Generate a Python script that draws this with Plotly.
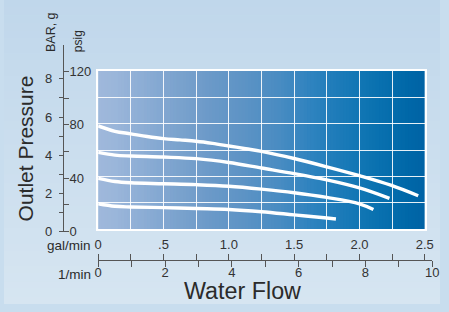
import plotly.graph_objects as go

# ---------------- data ----------------
flow_gal_1 = [0, 0.128, 0.25, 0.375, 0.5, 0.625, 0.75, 0.875, 1.0, 1.13, 1.25, 1.5, 1.75, 2.0, 2.24, 2.45]
psig_1 = [78.3, 74.2, 72.3, 70.3, 68.7, 67.7, 66.7, 65.1, 63.1, 61.0, 59.0, 53.6, 47.3, 40.6, 33.4, 25.4]

flow_gal_2 = [0, 0.128, 0.25, 0.5, 0.75, 1.0, 1.25, 1.5, 1.75, 2.0, 2.23]
psig_2 = [58.3, 56.2, 55.5, 54.7, 53.5, 50.6, 46.4, 42.2, 37.4, 31.3, 23.4]

flow_gal_3 = [0, 0.128, 0.25, 0.5, 0.75, 1.0, 1.25, 1.5, 1.75, 2.0, 2.107]
psig_3 = [38.6, 36.2, 35.2, 34.5, 33.8, 32.6, 30.4, 27.7, 24.1, 19.3, 15.0]

flow_gal_4 = [0, 0.128, 0.25, 0.5, 0.75, 1.0, 1.25, 1.5, 1.75, 1.82]
psig_4 = [19.3, 17.4, 16.9, 16.4, 15.7, 15.0, 13.3, 10.9, 8.5, 7.8]

gal_ticks = [0, 0.5, 1.0, 1.5, 2.0, 2.5]
gal_labels = ["0", ".5", "1.0", "1.5", "2.0", "2.5"]
gal_minor = [0.25, 0.75, 1.25, 1.75, 2.25]
lpm_ticks = [0, 2, 4, 6, 8, 10]
lpm_minor = [1, 3, 5, 7, 9]
psig_ticks = [0, 40, 80, 120]
psig_minor = [20, 60, 100]
bar_ticks = [0, 2, 4, 6, 8]
bar_minor = [1, 3, 5, 7]

# gradient colour stops across the plot (flow in gal/min -> colour)
grad_pos = [0.0, 0.125, 0.375, 0.625, 0.875, 1.125, 1.375, 1.625, 1.875, 2.125, 2.375, 2.5]
grad_col = ["#9fb8db", "#9bb6da", "#8aacd4", "#7aa2cd", "#6a99c8", "#5c93c5",
            "#4a8cc2", "#2f83bf", "#1a7ab8", "#0a72b0", "#0067a8", "#0063a5"]

W, H = 449, 312
FONT = "Liberation Sans, Arial, Helvetica, sans-serif"
AXC = "#555555"
TXT = "#2b2b2b"
TICKTXT = "#333333"


def hex2rgb(h):
    h = h.lstrip("#")
    return tuple(int(h[i:i + 2], 16) for i in (0, 2, 4))


def interp_color(v, pos, cols):
    for i in range(len(pos) - 1):
        if pos[i] <= v <= pos[i + 1]:
            t = (v - pos[i]) / (pos[i + 1] - pos[i])
            a, b = hex2rgb(cols[i]), hex2rgb(cols[i + 1])
            c = [round(a[k] + (b[k] - a[k]) * t) for k in range(3)]
            return "rgb(%d,%d,%d)" % tuple(c)
    return cols[-1]


fig = go.Figure()

curves = [(flow_gal_1, psig_1), (flow_gal_2, psig_2), (flow_gal_3, psig_3), (flow_gal_4, psig_4)]
for fx, fy in curves:
    fig.add_trace(go.Scatter(x=fx, y=fy, mode="lines",
                             line=dict(color="white", width=3.4, shape="spline", smoothing=1.0),
                             hoverinfo="skip", showlegend=False))

# empty traces so the scale axes form their own subplots
fig.add_trace(go.Scatter(x=[None], y=[None], xaxis="x2", yaxis="y2", showlegend=False, hoverinfo="skip"))
fig.add_trace(go.Scatter(x=[None], y=[None], xaxis="x3", yaxis="y3", showlegend=False, hoverinfo="skip"))

shapes = []
# sky background (vertical gradient)
sky_top, sky_bot = "#c0d7eb", "#d6e5f1"
nb = 40
for i in range(nb):
    t = i / (nb - 1)
    shapes.append(dict(type="rect", xref="paper", yref="paper", x0=0, x1=1,
                       y0=max(0, 1 - (i + 1) / nb - 0.002), y1=1 - i / nb,
                       fillcolor=interp_color(t, [0, 1], [sky_top, sky_bot]),
                       line=dict(width=0), layer="below"))
# plot area horizontal gradient
n = 100
step = 2.5 / n
for i in range(n):
    xc = (i + 0.5) * step
    shapes.append(dict(type="rect", xref="x", yref="y", x0=i * step,
                       x1=min(2.5, (i + 1) * step + step * 0.3),
                       y0=0, y1=120, fillcolor=interp_color(xc, grad_pos, grad_col),
                       line=dict(width=0), layer="below"))

xdom = [97.0 / W, 433.3 / W]
ydom = [1 - 235.3 / H, 1 - 72.7 / H]
axis_pos_x = 1 - 266.5 / H
y0_px = 237.7
psig_top_px = y0_px - 140 / 120 * (y0_px - 73.3)
bar_top_px = y0_px - 8.6 * 19.6

fig.update_layout(
    width=W, height=H,
    margin=dict(l=0, r=0, t=0, b=0),
    paper_bgcolor="#c8ddee",
    plot_bgcolor="rgba(0,0,0,0)",
    showlegend=False,
    shapes=shapes,
    font=dict(family=FONT, color=TXT, size=13),
    xaxis=dict(domain=xdom, range=[0, 2.5], dtick=0.25, tick0=0, showgrid=True,
               gridcolor="rgba(255,255,255,0.9)", gridwidth=1.4, zeroline=False,
               showticklabels=False, ticks="", showline=True, mirror=True,
               linecolor="white", linewidth=2.4, fixedrange=True),
    yaxis=dict(domain=ydom, range=[0, 120], dtick=20, tick0=0, showgrid=True,
               gridcolor="rgba(255,255,255,0.9)", gridwidth=1.4, zeroline=False,
               showticklabels=False, ticks="", showline=True, mirror=True,
               linecolor="white", linewidth=2.4, fixedrange=True),
    # gal/min axis (labels above the line)
    xaxis2=dict(domain=xdom, range=[0, 2.5], anchor="free", position=axis_pos_x,
                side="top", showgrid=False, zeroline=False,
                tickmode="array", tickvals=gal_ticks, ticktext=gal_labels,
                ticks="outside", ticklen=6, tickwidth=1.2, tickcolor=AXC,
                minor=dict(tickvals=gal_minor, ticks="outside", ticklen=6, tickwidth=1.2, tickcolor=AXC),
                showline=False, tickfont=dict(size=13, color=TICKTXT), ticklabelstandoff=-1),
    # 1/min axis (labels below the line)
    xaxis3=dict(domain=[97.0 / W, 441.0 / W], range=[0, 10], anchor="free", position=axis_pos_x,
                side="bottom", showgrid=False, zeroline=False,
                tickmode="array", tickvals=lpm_ticks,
                ticks="outside", ticklen=6, tickwidth=1.2, tickcolor=AXC,
                minor=dict(tickvals=lpm_minor, ticks="outside", ticklen=6, tickwidth=1.2, tickcolor=AXC),
                showline=True, linecolor=AXC, linewidth=1.2,
                tickfont=dict(size=13, color=TICKTXT), ticklabelstandoff=-5),
    # psig axis (labels right of the line)
    yaxis2=dict(domain=[1 - y0_px / H, 1 - psig_top_px / H], range=[0, 140], anchor="free",
                position=60.5 / W, side="right", showgrid=False, zeroline=False,
                tickmode="array", tickvals=psig_ticks,
                ticks="outside", ticklen=5, tickwidth=1.2, tickcolor=AXC,
                minor=dict(tickvals=psig_minor, ticks="outside", ticklen=5, tickwidth=1.2, tickcolor=AXC),
                showline=True, linecolor=AXC, linewidth=1.2,
                tickfont=dict(size=13, color=TICKTXT), ticklabelstandoff=-2),
    # BAR axis (labels left of the line)
    yaxis3=dict(domain=[1 - y0_px / H, 1 - bar_top_px / H], range=[0, 8.6], anchor="free",
                position=60.5 / W, side="left", showgrid=False, zeroline=False,
                tickmode="array", tickvals=bar_ticks,
                ticks="outside", ticklen=4, tickwidth=1.2, tickcolor=AXC,
                minor=dict(tickvals=bar_minor, ticks="outside", ticklen=4, tickwidth=1.2, tickcolor=AXC),
                showline=False, tickfont=dict(size=13, color=TICKTXT), ticklabelstandoff=4),
    annotations=[
        dict(text="Outlet Pressure", xref="paper", yref="paper", x=22.5 / W, y=1 - 152.5 / H,
             textangle=-90, showarrow=False, xanchor="center", yanchor="middle",
             font=dict(size=21, color=TXT)),
        dict(text="BAR, g", xref="paper", yref="paper", x=49 / W, y=1 - 33.3 / H,
             textangle=-90, showarrow=False, xanchor="center", yanchor="middle",
             font=dict(size=12.5, color=TXT)),
        dict(text="psig", xref="paper", yref="paper", x=77 / W, y=1 - 42.5 / H,
             textangle=-90, showarrow=False, xanchor="center", yanchor="middle",
             font=dict(size=12, color=TXT)),
        dict(text="gal/min", xref="paper", yref="paper", x=92 / W, y=1 - 252.3 / H,
             showarrow=False, xanchor="right", yanchor="middle", font=dict(size=13.5, color=TXT)),
        dict(text="1/min", xref="paper", yref="paper", x=92 / W, y=1 - 281.5 / H,
             showarrow=False, xanchor="right", yanchor="middle", font=dict(size=13.5, color=TXT)),
        dict(text="Water Flow", xref="paper", yref="paper", x=246 / W, y=1 - 299 / H,
             showarrow=False, xanchor="center", yanchor="middle", font=dict(size=23.3, color=TXT)),
    ],
)

clip_js = (
    "document.documentElement.style.margin='0';"
    "document.documentElement.style.overflow='hidden';"
    "document.body.style.margin='0';document.body.style.overflow='hidden';"
    "var gd=document.getElementById('{plot_id}');"
    "gd.style.overflow='hidden';gd.parentNode.style.overflow='hidden';"
    "var sc=gd.querySelector('.svg-container');if(sc){sc.style.overflow='hidden';}"
)
fig.write_html("out.html", config={"displayModeBar": False}, post_script=clip_js)
